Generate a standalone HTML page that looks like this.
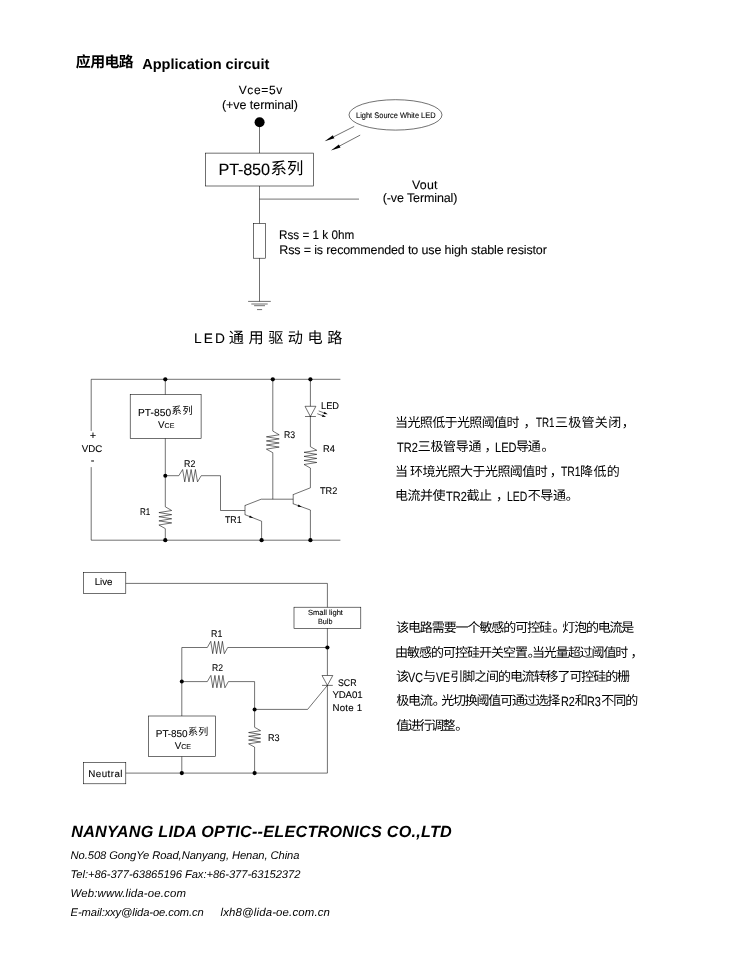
<!DOCTYPE html>
<html lang="zh"><head><meta charset="utf-8"><title>PT-850 Application circuit</title>
<style>
html,body{margin:0;padding:0;background:#fff}
body{position:relative;width:750px;height:970px;overflow:hidden;text-rendering:geometricPrecision;font-family:"Liberation Sans",sans-serif;color:#000}
#art{position:absolute;left:0;top:0}
#txt{position:absolute;left:0;top:0;width:750px;height:970px;will-change:transform}
#art path,#art rect,#art ellipse,#art .w{fill:none;stroke:#000;stroke-width:.56}
#art .k{fill:#000;stroke:none}
#art .w{fill:#fff}
.t,.c{position:absolute;white-space:nowrap;color:#000;transform-origin:0 0}
.t{-webkit-text-stroke:.1px #000}
.t.b{font-weight:bold;-webkit-text-stroke:0}.t.i{font-style:italic;-webkit-text-stroke:0}.t.bi{font-weight:bold;font-style:italic;color:#000;-webkit-text-stroke:0}
.c{line-height:1em;height:1em;font-family:"Liberation Sans","Noto Sans CJK SC",sans-serif}
.c.b{font-weight:bold}
</style></head>
<body>
<svg id="art" width="750" height="970" viewBox="0 0 750 970" aria-hidden="true">
<circle class="k" cx="259.6" cy="122.2" r="5"/>
<path d="M259.5 121.8 L259.5 153.1"/>
<rect x="205.4" y="153.1" width="108.2" height="32.9"/>
<path d="M259.5 186 L259.5 223.4"/>
<path d="M259.5 199.1 L359 199.1"/>
<rect x="253.6" y="223.4" width="11.7" height="34.8"/>
<path d="M259.5 258.2 L259.5 301.4"/>
<path d="M248.1 301.4 L270.8 301.4"/>
<path d="M251.3 304 L267.7 304"/>
<path d="M254.1 305.7 L265 305.7"/>
<path d="M257 309.6 L262.1 309.6"/>
<ellipse cx="395.5" cy="114.9" rx="46.5" ry="15.2"/>
<path d="M354.2 126.4 L333.63 136.79"/>
<polygon class="k" points="324.7,141.3 332.86,135.27 334.39,138.31"/>
<path d="M360.2 135.1 L339.74 145.92"/>
<polygon class="k" points="330.9,150.6 338.94,144.42 340.53,147.43"/>
<path d="M91.2 430.9 L91.2 379.3 L340.4 379.3"/>
<path d="M91.2 467.1 L91.2 540.2 L340.4 540.2"/>
<circle class="k" cx="165.3" cy="379.3" r="2.1"/>
<circle class="k" cx="272.8" cy="379.3" r="2.1"/>
<circle class="k" cx="310.4" cy="379.3" r="2.1"/>
<circle class="k" cx="165.3" cy="540.2" r="2.1"/>
<circle class="k" cx="261.6" cy="540.2" r="2.1"/>
<circle class="k" cx="310.4" cy="540.2" r="2.1"/>
<path d="M165.3 379.3 L165.3 394.5"/>
<rect x="130.2" y="394.5" width="70.9" height="43.9"/>
<path d="M165.3 438.4 L165.3 506.8"/>
<circle class="k" cx="165.3" cy="475.7" r="2"/>
<path d="M165.3 506.8 L171.7 510.51 L158.9 512.58 L171.7 514.65 L158.9 516.72 L171.7 518.79 L158.9 520.86 L171.7 522.93 L158.9 525 L165.3 528.6"/>
<path d="M165.3 528.6 L165.3 540.2"/>
<path d="M165.3 475.7 L178.8 475.7"/>
<path d="M178.8 475.7 L182.61 469.5 L184.74 481.9 L186.86 469.5 L188.99 481.9 L191.12 469.5 L193.25 481.9 L195.38 469.5 L197.5 481.9 L201.2 475.7"/>
<path d="M201.2 475.7 L220.5 475.7 L220.5 510.5 L245 510.5"/>
<path d="M245 505.2 L245 514.9"/>
<path d="M245 505.5 L261.2 499.2 L293.2 499.2"/>
<path d="M245 514.7 L261.6 521.2 L261.6 540.2"/>
<polygon class="k" points="253.2,517.91 249.06,517.52 249.89,515.38"/>
<path d="M272.8 379.3 L272.8 431.1"/>
<path d="M272.8 431.1 L279.2 434.77 L266.4 436.82 L279.2 438.88 L266.4 440.93 L279.2 442.98 L266.4 445.03 L279.2 447.08 L266.4 449.14 L272.8 452.7"/>
<path d="M272.8 452.7 L272.8 499.2"/>
<path d="M293.2 494.3 L293.2 504.1"/>
<path d="M293.2 494.6 L310.4 487.8 L310.4 468"/>
<path d="M310.4 446.7 L316.8 450.32 L304 452.34 L316.8 454.37 L304 456.39 L316.8 458.42 L304 460.44 L316.8 462.46 L304 464.49 L310.4 468"/>
<path d="M310.4 446.7 L310.4 379.3"/>
<path d="M293.2 503.8 L310.4 510 L310.4 540.2"/>
<polygon class="k" points="301.8,506.9 297.65,506.63 298.43,504.46"/>
<polygon class="w" points="305,406.3 315.9,406.3 310.4,416.5"/>
<path d="M305 416.5 L315.9 416.5"/>
<path d="M318.7 410.9 L323.96 412.89"/>
<polygon class="k" points="327.7,414.3 323.53,414.01 324.38,411.76"/>
<path d="M317.3 413.7 L322.26 415.58"/>
<polygon class="k" points="326,417 321.83,416.7 322.69,414.46"/>
<rect x="83.5" y="572.5" width="42.3" height="20.9"/>
<rect x="83.5" y="762.7" width="42.3" height="21.1"/>
<path d="M125.8 583.4 L327.4 583.4 L327.4 607.2"/>
<rect x="294" y="607.2" width="66.8" height="21.1"/>
<path d="M327.4 628.3 L327.4 675.5"/>
<polygon class="w" points="322,675.5 332.8,675.5 327.4,685.4"/>
<path d="M322 685.4 L332.8 685.4"/>
<path d="M327.4 685.4 L327.4 773.1 L125.8 773.1"/>
<circle class="k" cx="327.4" cy="647.5" r="2.1"/>
<circle class="k" cx="181.8" cy="681.6" r="2"/>
<circle class="k" cx="254.6" cy="709.4" r="2"/>
<circle class="k" cx="181.8" cy="773.1" r="2.1"/>
<circle class="k" cx="254.6" cy="773.1" r="2.1"/>
<path d="M327.4 647.5 L227.7 647.5"/>
<path d="M207.3 647.5 L210.77 641.3 L212.71 653.7 L214.64 641.3 L216.58 653.7 L218.52 641.3 L220.46 653.7 L222.4 641.3 L224.33 653.7 L227.7 647.5"/>
<path d="M207.3 647.5 L181.8 647.5 L181.8 716"/>
<rect x="148.4" y="716" width="67" height="40.6"/>
<path d="M181.8 756.6 L181.8 773.1"/>
<path d="M181.8 681.6 L207.3 681.6"/>
<path d="M207.3 681.6 L210.89 675.4 L212.89 687.8 L214.9 675.4 L216.9 687.8 L218.91 675.4 L220.91 687.8 L222.91 675.4 L224.92 687.8 L228.4 681.6"/>
<path d="M228.4 681.6 L254.6 681.6 L254.6 727.3"/>
<path d="M254.6 727.3 L260.6 730.67 L248.6 732.55 L260.6 734.43 L248.6 736.31 L260.6 738.19 L248.6 740.07 L260.6 741.95 L248.6 743.83 L254.6 747.1"/>
<path d="M254.6 747.1 L254.6 773.1"/>
<path d="M254.6 709.4 L307.6 709.4 L327.4 685.4"/>
</svg>
<main id="txt">
<div class="c b" style="left:75.8px;top:56.09px;font-size:14.9px;letter-spacing:-0.036em">应用电路</div>
<div class="t b" style="left:142.2px;top:57px;font-size:14.6px;line-height:16px;letter-spacing:-0.01px;">Application circuit</div>
<div class="t" style="left:238.7px;top:83px;font-size:12px;line-height:14px;letter-spacing:0.63px;">Vce=5v</div>
<div class="t" style="left:222px;top:98.2px;font-size:12.5px;line-height:14px;letter-spacing:-0.06px;">(+ve terminal)</div>
<div class="t" style="left:218.6px;top:161px;font-size:16.3px;line-height:18px;letter-spacing:-0.23px;">PT-850</div>
<div class="c" style="left:270.45px;top:161.07px;font-size:16.4px;letter-spacing:0.018em">系列</div>
<div class="t" style="left:355.7px;top:111.3px;font-size:8.1px;line-height:9px;transform:scaleX(0.922);">Light Source White LED</div>
<div class="t" style="left:412.1px;top:177.7px;font-size:12.4px;line-height:14px;letter-spacing:0.16px;">Vout</div>
<div class="t" style="left:382.7px;top:190.5px;font-size:12.5px;line-height:14px;letter-spacing:-0.11px;">(-ve Terminal)</div>
<div class="t" style="left:279.3px;top:227.7px;font-size:12.5px;line-height:14px;transform:scaleX(0.937);">Rss = 1 k 0hm</div>
<div class="t" style="left:279.3px;top:242.7px;font-size:12.5px;line-height:14px;letter-spacing:-0.14px;">Rss = is recommended to use high stable resistor</div>
<div class="t" style="left:194.1px;top:331.3px;font-size:13.7px;line-height:15px;letter-spacing:2.13px;">LED</div>
<div class="c" style="left:228.78px;top:331.12px;font-size:15.2px;letter-spacing:0.296em">通用驱动电路</div>
<div class="t" style="left:89.75px;top:430.2px;font-size:11px;line-height:12px;">+</div>
<div class="t" style="left:90.8px;top:455.1px;font-size:11px;line-height:12px;">-</div>
<div class="t" style="left:81.7px;top:443.8px;font-size:9.7px;line-height:11px;letter-spacing:0.11px;">VDC</div>
<div class="t" style="left:138px;top:407.9px;font-size:10.2px;line-height:11px;letter-spacing:0.06px;">PT-850</div>
<div class="c" style="left:171.49px;top:406.92px;font-size:10.2px;letter-spacing:0.087em">系列</div>
<div class="t" style="left:158px;top:420.3px;font-size:9.8px;line-height:11px;">V<span style="font-size:.72em">CE</span></div>
<div class="t" style="left:183.9px;top:458.7px;font-size:9.7px;line-height:11px;transform:scaleX(0.912);">R2</div>
<div class="t" style="left:139.7px;top:506.7px;font-size:9.7px;line-height:11px;transform:scaleX(0.831);">R1</div>
<div class="t" style="left:224.9px;top:515.4px;font-size:9.7px;line-height:11px;transform:scaleX(0.906);">TR1</div>
<div class="t" style="left:319.9px;top:485.7px;font-size:9.7px;line-height:11px;transform:scaleX(0.944);">TR2</div>
<div class="t" style="left:321.3px;top:400.7px;font-size:9.7px;line-height:11px;transform:scaleX(0.954);">LED</div>
<div class="t" style="left:283.9px;top:430.4px;font-size:9.7px;line-height:11px;transform:scaleX(0.895);">R3</div>
<div class="t" style="left:322.7px;top:443.6px;font-size:9.7px;line-height:11px;transform:scaleX(0.960);">R4</div>
<div class="t" style="left:94.8px;top:577.3px;font-size:9.7px;line-height:11px;letter-spacing:-0.1px;">Live</div>
<div class="t" style="left:88.3px;top:768.5px;font-size:9.8px;line-height:11px;letter-spacing:0.43px;">Neutral</div>
<div class="t" style="left:307.9px;top:607.8px;font-size:7.6px;line-height:9px;transform:scaleX(0.998);">Small light</div>
<div class="t" style="left:318.2px;top:616.5px;font-size:7.6px;line-height:9px;transform:scaleX(0.947);">Bulb</div>
<div class="t" style="left:210.5px;top:629.1px;font-size:9.7px;line-height:11px;transform:scaleX(0.912);">R1</div>
<div class="t" style="left:211.5px;top:662.7px;font-size:9.7px;line-height:11px;transform:scaleX(0.887);">R2</div>
<div class="t" style="left:267.6px;top:732.6px;font-size:9.7px;line-height:11px;transform:scaleX(0.936);">R3</div>
<div class="t" style="left:338.4px;top:677.9px;font-size:9.7px;line-height:11px;transform:scaleX(0.908);">SCR</div>
<div class="t" style="left:332.4px;top:690.2px;font-size:9.7px;line-height:11px;letter-spacing:-0.13px;">YDA01</div>
<div class="t" style="left:332.4px;top:702.7px;font-size:9.7px;line-height:11px;letter-spacing:0.26px;">Note 1</div>
<div class="t" style="left:155.8px;top:728.5px;font-size:10px;line-height:11px;letter-spacing:-0.09px;">PT-850</div>
<div class="c" style="left:187.9px;top:727.7px;font-size:10px;letter-spacing:0.036em">系列</div>
<div class="t" style="left:174.7px;top:740.8px;font-size:9.8px;line-height:11px;">V<span style="font-size:.72em">CE</span></div>
<div class="c" style="left:395.11px;top:415.96px;font-size:13px;letter-spacing:-0.048em">当光照低于光照阈值时</div>
<div class="c" style="left:523.54px;top:415.96px;font-size:13px">，</div>
<div class="t" style="left:535.7px;top:415.4px;font-size:13.3px;line-height:15px;transform:scaleX(0.736);">TR1</div>
<div class="c" style="left:555.05px;top:415.96px;font-size:13px;letter-spacing:0.021em">三极管关闭</div>
<div class="c" style="left:621.75px;top:415.96px;font-size:13px">，</div>
<div class="t" style="left:396.9px;top:439.8px;font-size:13.3px;line-height:15px;transform:scaleX(0.828);">TR2</div>
<div class="c" style="left:417.75px;top:440.36px;font-size:13px;letter-spacing:-0.026em">三极管导通</div>
<div class="c" style="left:484.44px;top:440.36px;font-size:13px">，</div>
<div class="t" style="left:494.5px;top:439.8px;font-size:13.3px;line-height:15px;transform:scaleX(0.831);">LED</div>
<div class="c" style="left:515.89px;top:440.36px;font-size:13px;letter-spacing:-0.092em">导通</div>
<div class="c" style="left:541.45px;top:440.36px;font-size:13px">。</div>
<div class="c" style="left:395.11px;top:464.86px;font-size:13px">当</div>
<div class="c" style="left:410.03px;top:464.86px;font-size:13px;letter-spacing:-0.04em">环境光照大于光照阈值时</div>
<div class="c" style="left:549.85px;top:464.86px;font-size:13px">，</div>
<div class="t" style="left:560.6px;top:464.3px;font-size:13.3px;line-height:15px;transform:scaleX(0.780);">TR1</div>
<div class="c" style="left:580.09px;top:464.86px;font-size:13px;letter-spacing:0.028em">降低的</div>
<div class="c" style="left:394.96px;top:489.26px;font-size:13px;letter-spacing:-0.038em">电流并使</div>
<div class="t" style="left:445.5px;top:488.7px;font-size:13.3px;line-height:15px;transform:scaleX(0.828);">TR2</div>
<div class="c" style="left:466.62px;top:489.26px;font-size:13px;letter-spacing:-0.043em">截止</div>
<div class="c" style="left:496.05px;top:489.26px;font-size:13px">，</div>
<div class="t" style="left:507px;top:488.7px;font-size:13.3px;line-height:15px;transform:scaleX(0.785);">LED</div>
<div class="c" style="left:527.63px;top:489.26px;font-size:13px;letter-spacing:-0.028em">不导通</div>
<div class="c" style="left:565.75px;top:489.26px;font-size:13px">。</div>
<div class="c" style="left:396px;top:621.26px;font-size:13px;letter-spacing:-0.083em">该电路需要一个敏感的可控硅</div>
<div class="c" style="left:552.45px;top:621.26px;font-size:13px">。</div>
<div class="c" style="left:562.34px;top:621.26px;font-size:13px;letter-spacing:-0.092em">灯泡的电流是</div>
<div class="c" style="left:395.12px;top:645.66px;font-size:13px;letter-spacing:-0.078em">由敏感的可控硅开关空置</div>
<div class="c" style="left:527.65px;top:645.66px;font-size:13px">。</div>
<div class="c" style="left:531.9px;top:645.66px;font-size:13px;letter-spacing:-0.083em">当光量超过阈值时</div>
<div class="c" style="left:630.45px;top:645.66px;font-size:13px">，</div>
<div class="c" style="left:396px;top:670.06px;font-size:13px">该</div>
<div class="t" style="left:407.9px;top:669.5px;font-size:13.3px;line-height:15px;transform:scaleX(0.812);">VC</div>
<div class="c" style="left:423.06px;top:670.06px;font-size:13px">与</div>
<div class="t" style="left:435.9px;top:669.5px;font-size:13.3px;line-height:15px;transform:scaleX(0.783);">VE</div>
<div class="c" style="left:450.36px;top:670.06px;font-size:13px;letter-spacing:-0.084em">引脚之间的电流转移了可控硅的栅</div>
<div class="c" style="left:396.2px;top:694.46px;font-size:13px;letter-spacing:-0.086em">极电流</div>
<div class="c" style="left:432.75px;top:694.46px;font-size:13px">。</div>
<div class="c" style="left:441.26px;top:694.46px;font-size:13px;letter-spacing:-0.094em">光切换阈值可通过选择</div>
<div class="t" style="left:560.6px;top:693.9px;font-size:13.3px;line-height:15px;transform:scaleX(0.818);">R2</div>
<div class="c" style="left:574.66px;top:694.46px;font-size:13px">和</div>
<div class="t" style="left:587.1px;top:693.9px;font-size:13.3px;line-height:15px;transform:scaleX(0.818);">R3</div>
<div class="c" style="left:601.33px;top:694.46px;font-size:13px;letter-spacing:-0.077em">不同的</div>
<div class="c" style="left:396.18px;top:718.86px;font-size:13px;letter-spacing:-0.109em">值进行调整</div>
<div class="c" style="left:455.35px;top:718.86px;font-size:13px">。</div>
<div class="t bi" style="left:71.2px;top:822.8px;font-size:16.2px;line-height:18px;letter-spacing:0.25px;">NANYANG LIDA OPTIC--ELECTRONICS CO.,LTD</div>
<div class="t i" style="left:70.6px;top:850px;font-size:11.2px;line-height:12px;letter-spacing:-0.08px;">No.508 GongYe Road,Nanyang, Henan, China</div>
<div class="t i" style="left:70.6px;top:869px;font-size:11.2px;line-height:12px;letter-spacing:-0.06px;">Tel:+86-377-63865196 Fax:+86-377-63152372</div>
<div class="t i" style="left:70.6px;top:888px;font-size:11.4px;line-height:12px;letter-spacing:0.16px;">Web:www.lida-oe.com</div>
<div class="t i" style="left:70.6px;top:906.8px;font-size:11.2px;line-height:12px;letter-spacing:-0.11px;">E-mail:xxy@lida-oe.com.cn</div>
<div class="t i" style="left:220.5px;top:906.8px;font-size:11.4px;line-height:12px;letter-spacing:0.16px;">lxh8@lida-oe.com.cn</div>
</main>
</body></html>
